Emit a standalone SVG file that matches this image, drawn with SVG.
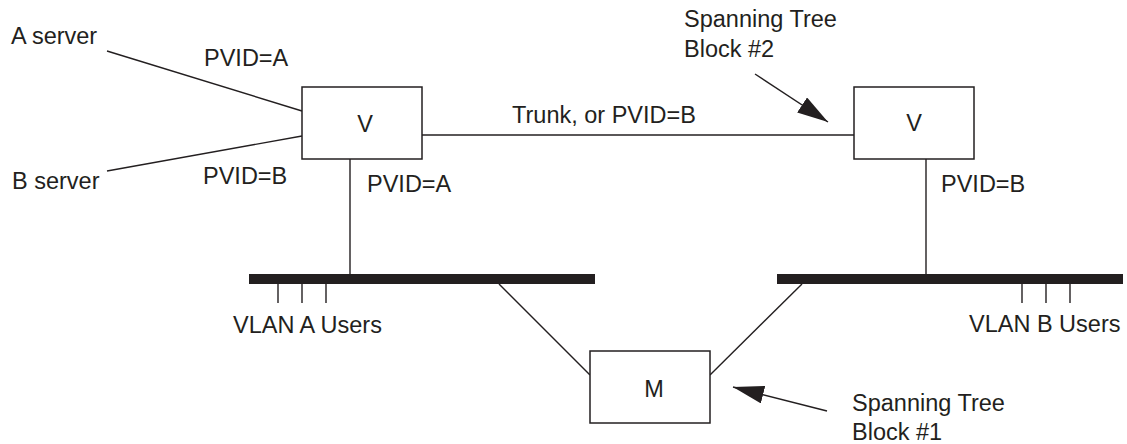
<svg xmlns="http://www.w3.org/2000/svg" width="1127" height="444" viewBox="0 0 1127 444">
<style>
text{font-family:"Liberation Sans",Arial,sans-serif;font-size:23.5px;fill:#231f20}
.box{fill:#fff;stroke:#231f20;stroke-width:1.5}
.ln{stroke:#231f20;stroke-width:1.4;fill:none}
.bus{fill:#231f20}
.c{text-anchor:middle}
</style>
<defs>
<marker id="ah" markerUnits="userSpaceOnUse" markerWidth="34" markerHeight="20" refX="31" refY="9" orient="auto">
<path d="M0,0 L31,9 L0,18 z" fill="#231f20"/>
</marker>
</defs>
<g id="connectors">
<line class="ln" x1="107" y1="51" x2="302" y2="111"/>
<line class="ln" x1="107" y1="171" x2="302" y2="136"/>
<line class="ln" x1="422" y1="135" x2="854" y2="135"/>
<line class="ln" x1="350" y1="159" x2="350" y2="274"/>
<line class="ln" x1="926" y1="159" x2="926" y2="274"/>
<line class="ln" x1="499" y1="284" x2="590" y2="375"/>
<line class="ln" x1="802" y1="284" x2="710" y2="375"/>
<line class="ln" x1="278" y1="284" x2="278" y2="303"/>
<line class="ln" x1="302" y1="284" x2="302" y2="303"/>
<line class="ln" x1="326" y1="284" x2="326" y2="303"/>
<line class="ln" x1="1022" y1="284" x2="1022" y2="303"/>
<line class="ln" x1="1046" y1="284" x2="1046" y2="303"/>
<line class="ln" x1="1070" y1="284" x2="1070" y2="303"/>
<line class="ln" x1="755" y1="74" x2="828" y2="122" marker-end="url(#ah)"/>
<line class="ln" x1="827" y1="411" x2="733" y2="387" marker-end="url(#ah)"/>
</g>
<g id="busA"><rect class="bus" x="249" y="274" width="346" height="10"/></g>
<g id="busB"><rect class="bus" x="777" y="274" width="346" height="10"/></g>
<g id="switchV1"><rect class="box" x="302" y="87" width="120" height="72"/><text class="c" x="365" y="132">V</text></g>
<g id="switchV2"><rect class="box" x="854" y="87" width="120" height="72"/><text class="c" x="914" y="131">V</text></g>
<g id="switchM"><rect class="box" x="590" y="351" width="120" height="72"/><text class="c" x="654" y="397">M</text></g>
<g id="labels">
<text x="11" y="44">A server</text>
<text x="12" y="189">B server</text>
<text x="204" y="66">PVID=A</text>
<text x="203" y="184">PVID=B</text>
<text x="367" y="192">PVID=A</text>
<text x="941" y="192">PVID=B</text>
<text x="512" y="123">Trunk, or PVID=B</text>
<text x="684" y="27">Spanning Tree</text>
<text x="684" y="57">Block #2</text>
<text x="233" y="333">VLAN A Users</text>
<text x="969" y="332">VLAN B Users</text>
<text x="852" y="411">Spanning Tree</text>
<text x="852" y="440">Block #1</text>
</g>
</svg>
